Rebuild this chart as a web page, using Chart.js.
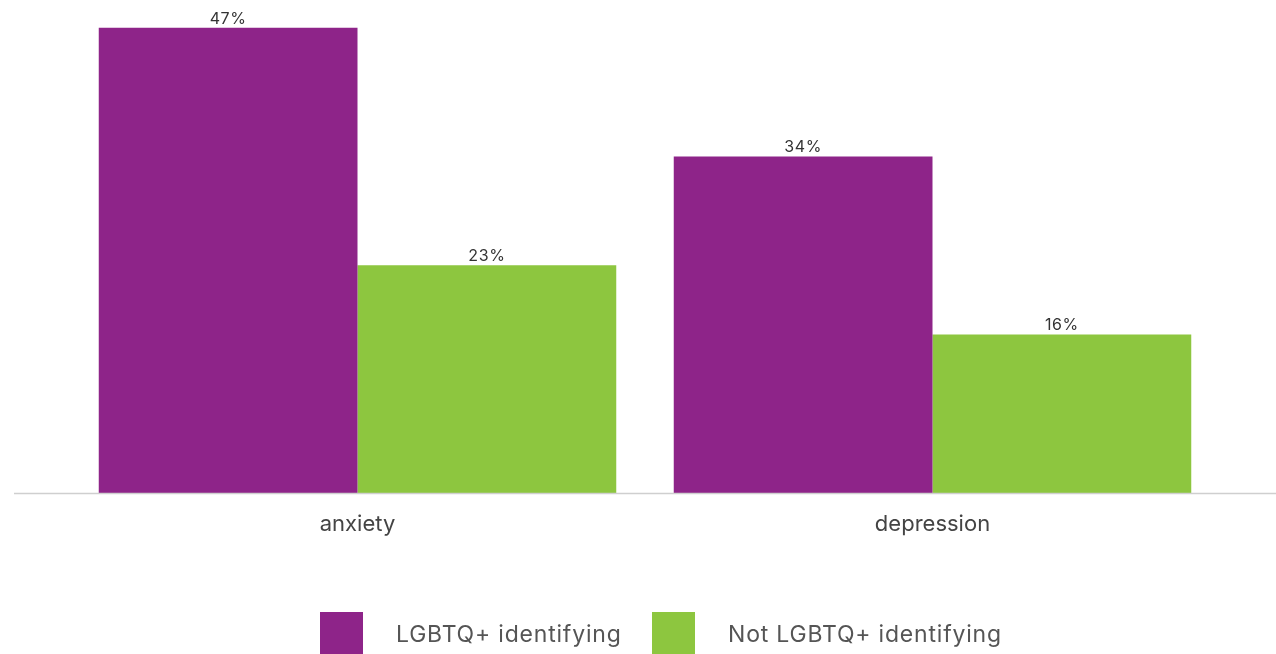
<!DOCTYPE html>
<html>
<head>
<meta charset="utf-8">
<script src="https://cdn.jsdelivr.net/npm/chart.js@4/dist/chart.umd.min.js"></script>
<style>
  html, body { margin: 0; padding: 0; background: #fff; overflow: hidden; }
  #wrap { position: relative; width: 1276px; height: 654px; }
  #legend { position: absolute; left: 0; top: 612px; width: 1276px; font-family: Inter, "Noto Sans", sans-serif; font-size: 23px; letter-spacing: 0.8px; color: #555; }
  .item { position: absolute; top: 0; display: flex; align-items: center; }
  .box { width: 43px; height: 43px; margin-right: 33px; }
</style>
</head>
<body>
<div id="wrap">
  <canvas id="chart" width="1276" height="654"></canvas>
  <div id="legend"></div>
</div>
<script>
// Chart values
const categories = ['anxiety', 'depression'];
const seriesNames = ['LGBTQ+ identifying', 'Not LGBTQ+ identifying'];
const lgbtqValues = [47, 34];
const notLgbtqValues = [23, 16];
const colors = ['#8e2489', '#8dc63f'];

// draws the % value above each bar
const valueLabels = {
  id: 'valueLabels',
  afterDatasetsDraw(chart) {
    const ctx = chart.ctx;
    ctx.save();
    ctx.font = '16px Inter, "Noto Sans", sans-serif';
    ctx.letterSpacing = '0.6px';
    ctx.fillStyle = '#333';
    ctx.textAlign = 'center';
    ctx.textBaseline = 'bottom';
    chart.data.datasets.forEach((ds, i) => {
      chart.getDatasetMeta(i).data.forEach((bar, j) => {
        ctx.fillText(ds.data[j] + '%', bar.x, bar.y - 1);
      });
    });
    ctx.restore();
  }
};

// baseline runs wider than the plot area in the reference
const baseline = {
  id: 'baseline',
  afterDatasetsDraw(chart) {
    const ctx = chart.ctx;
    const y = chart.chartArea.bottom + 0.5;
    ctx.save();
    ctx.strokeStyle = '#cfcfcf';
    ctx.lineWidth = 1.5;
    ctx.beginPath();
    ctx.moveTo(14, y);
    ctx.lineTo(chart.width, y);
    ctx.stroke();
    ctx.restore();
  }
};

new Chart(document.getElementById('chart'), {
  type: 'bar',
  data: {
    labels: categories,
    datasets: [
      { label: seriesNames[0], data: lgbtqValues, backgroundColor: colors[0] },
      { label: seriesNames[1], data: notLgbtqValues, backgroundColor: colors[1] }
    ]
  },
  options: {
    responsive: false,
    animation: false,
    layout: { padding: { left: 70, right: 56, top: 0, bottom: 101 } },
    datasets: { bar: { categoryPercentage: 0.9, barPercentage: 1.0 } },
    scales: {
      x: {
        grid: { display: false },
        border: { display: false },
        ticks: { color: '#444', font: { family: 'Inter, "Noto Sans", sans-serif', size: 22 }, padding: 10 },
        afterFit: (scale) => { scale.height = 60; }
      },
      y: { display: false, min: 0, max: 49.8 }
    },
    plugins: { legend: { display: false }, tooltip: { enabled: false } }
  },
  plugins: [valueLabels, baseline]
});

// html legend
const legend = document.getElementById('legend');
const lefts = [320, 652];
seriesNames.forEach((name, i) => {
  const item = document.createElement('div');
  item.className = 'item';
  item.style.left = lefts[i] + 'px';
  item.innerHTML = `<span class="box" style="background:${colors[i]}"></span><span>${name}</span>`;
  legend.appendChild(item);
});
</script>
</body>
</html>
